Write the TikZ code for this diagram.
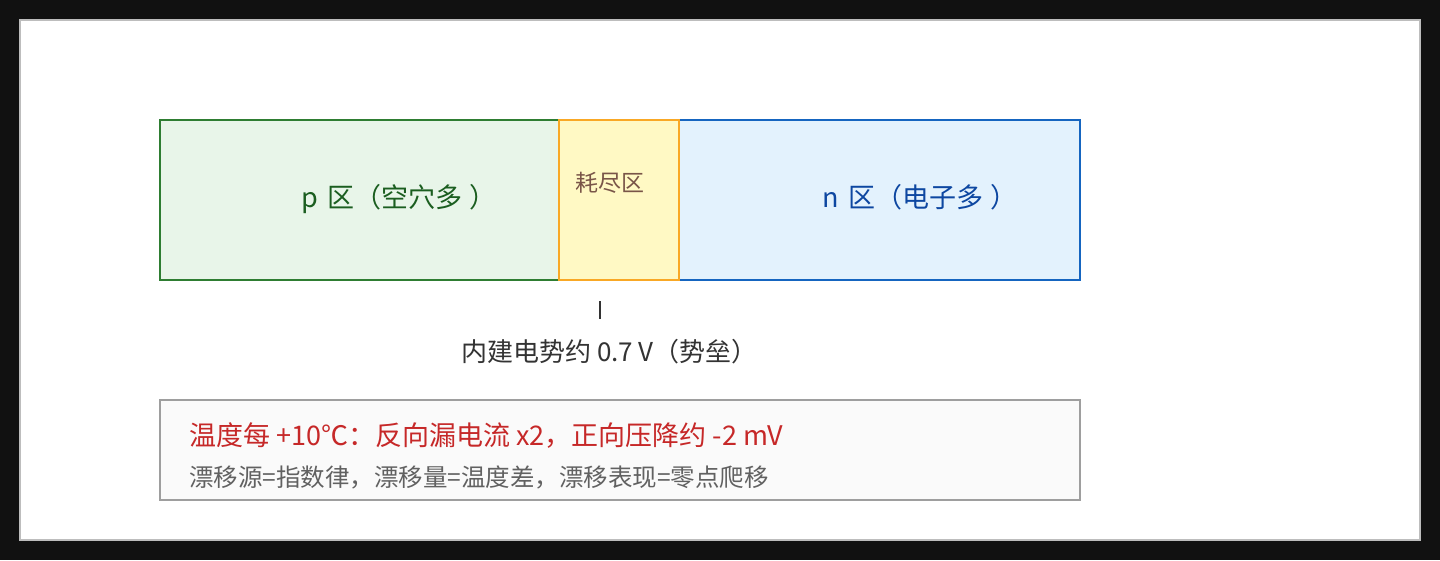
\documentclass[tikz,border=0pt]{standalone}
\usepackage{fontspec}
\setmainfont{Noto Sans CJK SC}
\definecolor{frameblack}{HTML}{111111}
\definecolor{framegray}{HTML}{BDBDBD}
\definecolor{pfill}{HTML}{E8F5E9}
\definecolor{pdraw}{HTML}{2E7D32}
\definecolor{ptext}{HTML}{1B5E20}
\definecolor{dfill}{HTML}{FFF9C4}
\definecolor{ddraw}{HTML}{F9A825}
\definecolor{dtext}{HTML}{795548}
\definecolor{nfill}{HTML}{E3F2FD}
\definecolor{ndraw}{HTML}{1565C0}
\definecolor{ntext}{HTML}{0D47A1}
\definecolor{bfill}{HTML}{FAFAFA}
\definecolor{bdraw}{HTML}{9E9E9E}
\definecolor{redtext}{HTML}{C62828}
\definecolor{graytext}{HTML}{616161}
\definecolor{darktext}{HTML}{333333}
\tikzset{
  region/.style={line width=2pt},
  lbl/.style={inner sep=0pt, anchor=base west},
  bigfont/.style={font=\fontsize{27}{31}\selectfont},
}
\begin{document}
\begin{tikzpicture}[x=1pt,y=-1pt]
\useasboundingbox (0,0) rectangle (1440,560);
\fill[frameblack] (0,0) rectangle (1440,560);
\draw[framegray, fill=white, line width=2pt] (20,20) rectangle (1420,540);
% regions
\draw[region, draw=pdraw, fill=pfill] (160,120) rectangle (559,280);
\draw[region, draw=ndraw, fill=nfill] (679,120) rectangle (1080,280);
\draw[region, draw=ddraw, fill=dfill] (559,120) rectangle (679,280);
\node[lbl, bigfont, text=ptext] (ptxt) at (301,207) {p\kern10pt 区（空穴多\kern7pt）};
\node[lbl, bigfont, text=ntext] (ntxt) at (822,207) {n\kern10pt 区（电子多\kern7pt）};
\node[lbl, text=dtext, font=\fontsize{23}{27}\selectfont] (dtxt) at (575,191) {耗尽区};
% tick
\coordinate (tA) at (600,301);
\coordinate (tB) at (600,319);
\draw[darktext, line width=2pt] (tA) -- (tB);
\node[lbl, text=darktext, font=\fontsize{26}{30}\selectfont] (vbi) at (461,361) {内建电势约 0.7 V（势垒）};
% note box
\draw[bdraw, fill=bfill, line width=2pt] (160,400) rectangle (1080,500);
\node[lbl, text=redtext, font=\fontsize{27}{31}\selectfont] (note1) at (189,445) {温度每 +10℃：反向漏电流 x2，正向压降约 -2 mV};
\node[lbl, text=graytext, font=\fontsize{24.5}{28}\selectfont] (note2) at (189,486) {漂移源=指数律，漂移量=温度差，漂移表现=零点爬移};
\end{tikzpicture}
\end{document}
